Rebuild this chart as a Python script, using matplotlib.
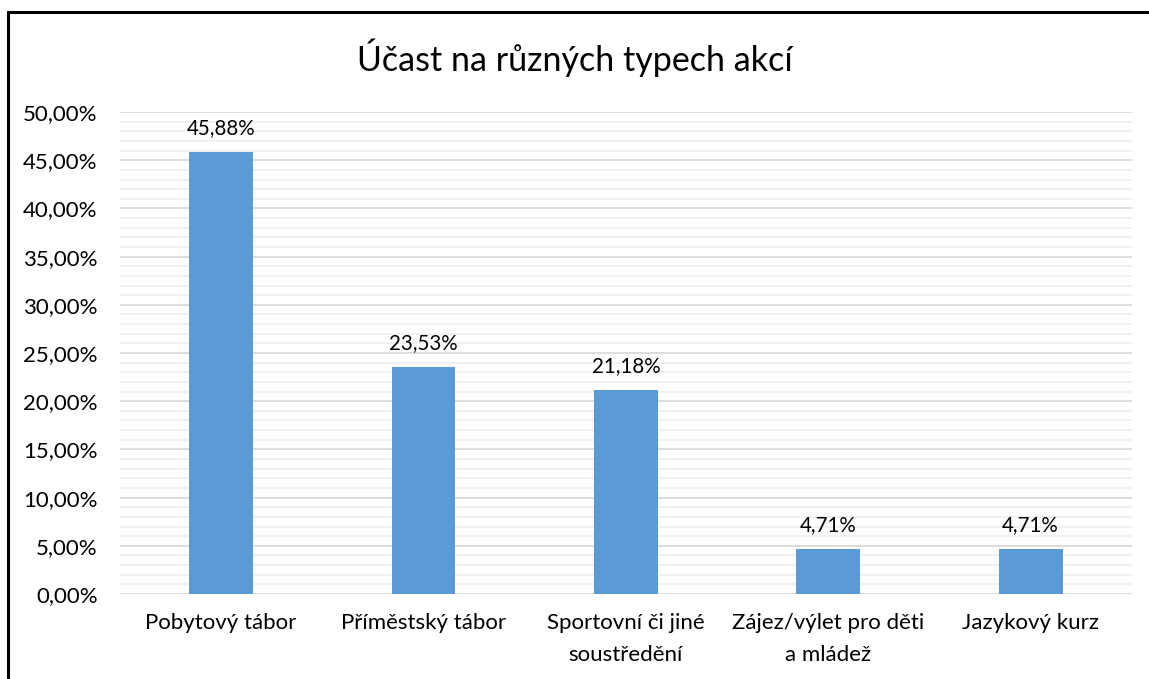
import matplotlib.pyplot as plt
from matplotlib.patches import Rectangle
from matplotlib.ticker import MultipleLocator, FuncFormatter

plt.rcParams['font.family'] = ['Lato', 'DejaVu Sans']

# Data
categories = ['Pobytový tábor', 'Příměstský tábor', 'Sportovní či jiné\nsoustředění',
              'Zájez/výlet pro děti\na mládež', 'Jazykový kurz']
values = [45.88, 23.53, 21.18, 4.71, 4.71]

fig = plt.figure(figsize=(11.49, 6.79), dpi=100)
ax = fig.add_axes([0.1044, 0.1252, 0.8806, 0.7098])

x = range(len(categories))
bars = ax.bar(x, values, width=0.316, color='#5B9BD5', zorder=3)

for i, v in enumerate(values):
    label = f'{v:.2f}%'.replace('.', ',')
    ax.annotate(label, (i, v), xytext=(0, 10), textcoords='offset points',
                ha='center', va='bottom', fontsize=14.8, color='#000000')

ax.set_xlim(-0.5, len(categories) - 0.5)
ax.set_ylim(0, 50)
ax.yaxis.set_major_locator(MultipleLocator(5))
ax.yaxis.set_minor_locator(MultipleLocator(1))
ax.yaxis.set_major_formatter(FuncFormatter(lambda v, p: f'{v:.2f}%'.replace('.', ',')))
ax.grid(axis='y', which='major', color='#D9D9D9', linewidth=1.3, zorder=0)
ax.grid(axis='y', which='minor', color='#F0F0F0', linewidth=1.3, zorder=0)

ax.set_xticks(list(x))
ax.set_xticklabels(categories, fontsize=16, linespacing=1.7)
ax.tick_params(axis='y', which='both', length=0, labelsize=16, pad=16)
ax.tick_params(axis='x', length=0, pad=14)
for s in ax.spines.values():
    s.set_visible(False)

fig.text(0.5, 0.915, 'Účast na různých typech akcí', ha='center', va='center',
         fontsize=24.5, color='#000000')

# Outer chart border (cut off at right and bottom)
fig.patches.append(Rectangle((8 / 1149, -0.1), 1.2, 1.1 - 12 / 679, transform=fig.transFigure,
                             fill=False, edgecolor='#000000', linewidth=2.2))

fig.savefig('out.png', dpi=100)
